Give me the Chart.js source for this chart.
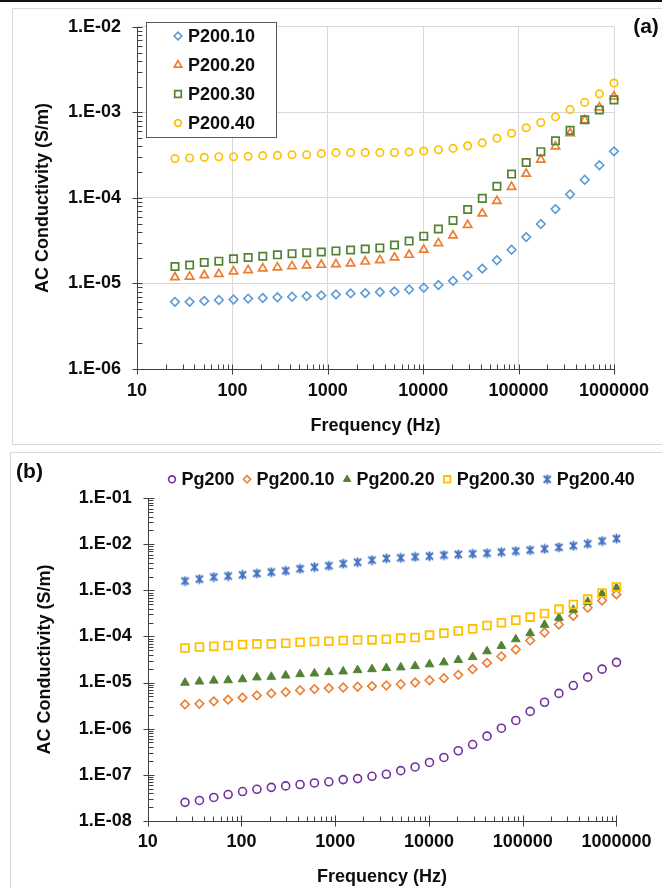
<!DOCTYPE html>
<html>
<head>
<meta charset="utf-8">
<script src="https://cdn.jsdelivr.net/npm/chart.js@4/dist/chart.umd.min.js"></script>
<style>
  html, body { margin: 0; padding: 0; background: #fff; }
  body { width: 662px; height: 888px; position: relative; overflow: hidden; }
  #topRule { position: absolute; left: 0; top: 0; width: 662px; height: 2px; background: #111; }
  .frame { position: absolute; border: 1px solid #d9d9d9; box-sizing: border-box; }
  #frameA { left: 12px; top: 8px; width: 700px; height: 437px; }
  #frameB { left: 10px; top: 452px; width: 700px; height: 500px; }
  canvas { position: absolute; left: 0; }
  #chartA { top: 0; }
  #chartB { top: 448px; }
</style>
</head>
<body>
<div id="topRule"></div>
<div class="frame" id="frameA"></div>
<div class="frame" id="frameB"></div>
<canvas id="chartA" width="662" height="448"></canvas>
<canvas id="chartB" width="662" height="440"></canvas>
<script>
// Measurement frequencies (Hz), shared by both panels
const frequencies = [25, 35.6, 50.7, 72.1, 102.7, 146.2, 208.2, 296.4, 421.9, 600.5, 855.1,
  1217, 1733, 2467, 3512, 5000, 7118, 10134, 14427, 20540, 29240, 41628, 59263, 84370,
  120112, 171000, 243430, 346560, 493390, 702400, 1000000];

// Panel (a): AC conductivity, S/m
const p200_10 = [6.1e-6, 6.1e-6, 6.25e-6, 6.4e-6, 6.5e-6, 6.65e-6, 6.75e-6, 6.9e-6, 7.0e-6, 7.1e-6, 7.25e-6,
  7.45e-6, 7.65e-6, 7.72e-6, 7.93e-6, 8.07e-6, 8.5e-6, 8.9e-6, 9.6e-6, 1.07e-5, 1.235e-5,
  1.49e-5, 1.87e-5, 2.48e-5, 3.48e-5, 4.95e-5, 7.4e-5, 1.1e-4, 1.63e-4, 2.41e-4, 3.5e-4];
const p200_20 = [1.18e-5, 1.2e-5, 1.245e-5, 1.29e-5, 1.38e-5, 1.43e-5, 1.5e-5, 1.54e-5, 1.59e-5, 1.62e-5, 1.65e-5,
  1.68e-5, 1.71e-5, 1.8e-5, 1.87e-5, 2.01e-5, 2.16e-5, 2.48e-5, 2.96e-5, 3.63e-5, 4.82e-5,
  6.57e-5, 9.19e-5, 1.345e-4, 1.915e-4, 2.8e-4, 4.0e-4, 5.69e-4, 8.1e-4, 1.143e-3, 1.53e-3];
const p200_30 = [1.58e-5, 1.64e-5, 1.76e-5, 1.82e-5, 1.94e-5, 2.01e-5, 2.08e-5, 2.16e-5, 2.23e-5, 2.29e-5, 2.33e-5,
  2.4e-5, 2.46e-5, 2.53e-5, 2.6e-5, 2.81e-5, 3.13e-5, 3.57e-5, 4.33e-5, 5.45e-5, 7.31e-5,
  9.87e-5, 1.368e-4, 1.9e-4, 2.59e-4, 3.47e-4, 4.65e-4, 6.16e-4, 8.18e-4, 1.067e-3, 1.4e-3];
const p200_40 = [2.88e-4, 2.93e-4, 2.98e-4, 3.03e-4, 3.03e-4, 3.06e-4, 3.12e-4, 3.14e-4, 3.2e-4, 3.2e-4, 3.29e-4,
  3.38e-4, 3.38e-4, 3.38e-4, 3.38e-4, 3.4e-4, 3.44e-4, 3.53e-4, 3.66e-4, 3.79e-4, 4.06e-4,
  4.4e-4, 4.98e-4, 5.69e-4, 6.61e-4, 7.62e-4, 8.86e-4, 1.076e-3, 1.307e-3, 1.645e-3, 2.2e-3];

// Panel (b): AC conductivity, S/m
const pg200 = [2.5e-8, 2.75e-8, 3.2e-8, 3.7e-8, 4.3e-8, 4.8e-8, 5.3e-8, 5.7e-8, 6.1e-8, 6.6e-8, 7.0e-8,
  7.8e-8, 8.2e-8, 9.2e-8, 1.02e-7, 1.22e-7, 1.47e-7, 1.84e-7, 2.36e-7, 3.3e-7, 4.5e-7,
  6.85e-7, 1.02e-6, 1.5e-6, 2.36e-6, 3.73e-6, 5.8e-6, 8.6e-6, 1.31e-5, 1.95e-5, 2.74e-5];
const pg200_10 = [3.35e-6, 3.45e-6, 3.9e-6, 4.25e-6, 4.7e-6, 5.25e-6, 5.8e-6, 6.2e-6, 6.8e-6, 7.2e-6, 7.55e-6,
  7.8e-6, 8.1e-6, 8.35e-6, 8.6e-6, 9.2e-6, 1.0e-5, 1.12e-5, 1.24e-5, 1.47e-5, 1.95e-5,
  2.67e-5, 3.7e-5, 5.2e-5, 8.2e-5, 1.22e-4, 1.82e-4, 2.8e-4, 4.2e-4, 6.05e-4, 8.2e-4];
const pg200_20 = [9.9e-6, 1.05e-5, 1.1e-5, 1.12e-5, 1.18e-5, 1.29e-5, 1.33e-5, 1.42e-5, 1.52e-5, 1.57e-5, 1.68e-5,
  1.74e-5, 1.86e-5, 1.95e-5, 2.06e-5, 2.13e-5, 2.27e-5, 2.48e-5, 2.74e-5, 3.08e-5, 3.58e-5,
  4.77e-5, 6.23e-5, 8.7e-5, 1.18e-4, 1.79e-4, 2.54e-4, 3.8e-4, 5.66e-4, 8.45e-4, 1.14e-3];
const pg200_30 = [5.6e-5, 5.9e-5, 6.1e-5, 6.35e-5, 6.7e-5, 6.9e-5, 6.9e-5, 7.1e-5, 7.5e-5, 7.8e-5, 7.9e-5,
  8.15e-5, 8.4e-5, 8.45e-5, 8.7e-5, 9.2e-5, 9.5e-5, 1.07e-4, 1.18e-4, 1.32e-4, 1.46e-4,
  1.73e-4, 1.98e-4, 2.26e-4, 2.63e-4, 3.16e-4, 3.92e-4, 4.96e-4, 6.47e-4, 8.74e-4, 1.18e-3];
const pg200_40 = [1.6e-3, 1.76e-3, 1.95e-3, 2.05e-3, 2.18e-3, 2.34e-3, 2.5e-3, 2.67e-3, 2.95e-3, 3.2e-3, 3.43e-3,
  3.8e-3, 4.1e-3, 4.55e-3, 4.95e-3, 5.1e-3, 5.35e-3, 5.55e-3, 5.85e-3, 6.05e-3, 6.25e-3,
  6.45e-3, 6.8e-3, 7.15e-3, 7.5e-3, 8.0e-3, 8.6e-3, 9.3e-3, 1.03e-2, 1.18e-2, 1.33e-2];

// Axis ticks and labels
const xTickValues = [10, 100, 1000, 10000, 100000, 1000000];
const xTickLabels = ['10', '100', '1000', '10000', '100000', '1000000'];
const yTickValuesA = [1e-6, 1e-5, 1e-4, 1e-3, 1e-2];
const yTickLabelsA = ['1.E-06', '1.E-05', '1.E-04', '1.E-03', '1.E-02'];
const yTickValuesB = [1e-8, 1e-7, 1e-6, 1e-5, 1e-4, 1e-3, 1e-2, 1e-1];
const yTickLabelsB = ['1.E-08', '1.E-07', '1.E-06', '1.E-05', '1.E-04', '1.E-03', '1.E-02', '1.E-01'];

const FAMILY = "'Liberation Sans', Arial, Helvetica, sans-serif";
const INK = '#0d0d0d';
const AXIS = '#404040';

// Six-armed star marker (X with a vertical bar)
function starMarker(color) {
  const s = 11;
  const c = document.createElement('canvas');
  c.width = s; c.height = s;
  const g = c.getContext('2d');
  g.strokeStyle = color; g.lineWidth = 2;
  const m = s / 2;
  g.beginPath();
  g.moveTo(m - 3.6, m - 3.4); g.lineTo(m + 3.6, m + 3.4);
  g.moveTo(m + 3.6, m - 3.4); g.lineTo(m - 3.6, m + 3.4);
  g.moveTo(m, m - 4.8); g.lineTo(m, m + 4.8);
  g.stroke();
  return c;
}

function series(label, values, style, radius, color, fill, width, idx, count) {
  return {
    label,
    data: frequencies.map((f, j) => ({ x: f, y: values[j] })),
    pointStyle: style,
    pointRadius: radius,
    pointHoverRadius: radius,
    pointBorderColor: color,
    pointBackgroundColor: fill,
    pointBorderWidth: width,
    showLine: false,
    clip: false,
    order: count - idx
  };
}

// Log-axis tick marks: major ticks cross the axis, minor ticks sit inside
function logMarks(min, max) {
  const out = [];
  const e0 = Math.round(Math.log10(min)), e1 = Math.round(Math.log10(max));
  for (let e = e0; e <= e1; e++) {
    const d = Math.pow(10, e);
    out.push({ v: d, major: true });
    if (e < e1) for (let k = 2; k <= 9; k++) out.push({ v: k * d, major: false });
  }
  return out;
}

const axisMarks = {
  id: 'axisMarks',
  afterDraw(chart, args, o) {
    const { ctx, chartArea: a, scales } = chart;
    const xs = scales.x, ys = scales.y;
    const xl = Math.round(a.left) + 0.5;
    const yb = Math.round(a.bottom) + 0.5;
    ctx.save();
    ctx.strokeStyle = AXIS;
    ctx.lineWidth = 1;
    ctx.beginPath();
    ctx.moveTo(xl, a.top); ctx.lineTo(xl, yb);
    ctx.moveTo(xl, yb); ctx.lineTo(a.right, yb);
    logMarks(xs.min, xs.max).forEach(t => {
      const px = Math.round(xs.getPixelForValue(t.v)) + 0.5;
      if (t.major) { ctx.moveTo(px, yb - o.majorIn); ctx.lineTo(px, yb + o.majorOut); }
      else { ctx.moveTo(px, yb - o.minorIn); ctx.lineTo(px, yb); }
    });
    logMarks(ys.min, ys.max).forEach(t => {
      const py = Math.round(ys.getPixelForValue(t.v)) + 0.5;
      if (t.major) { ctx.moveTo(xl - o.majorOut, py); ctx.lineTo(xl + o.majorIn, py); }
      else { ctx.moveTo(xl, py); ctx.lineTo(xl + o.minorIn, py); }
    });
    ctx.stroke();
    ctx.restore();
  }
};

function drawMarker(ctx, ds, x, y, scale) {
  ctx.save();
  ctx.strokeStyle = ds.pointBorderColor;
  ctx.fillStyle = ds.pointBackgroundColor;
  ctx.lineWidth = ds.pointBorderWidth;
  Chart.helpers.drawPoint(ctx, {
    pointStyle: ds.pointStyle,
    radius: ds.pointRadius * scale,
    rotation: 0,
    borderWidth: ds.pointBorderWidth
  }, x, y);
  ctx.restore();
}

const seriesKey = {
  id: 'seriesKey',
  afterDraw(chart, args, o) {
    const ctx = chart.ctx;
    ctx.save();
    if (o.box) {
      ctx.fillStyle = '#fff';
      ctx.fillRect(o.box.x, o.box.y, o.box.w, o.box.h);
      ctx.strokeStyle = o.box.color;
      ctx.lineWidth = 1;
      ctx.strokeRect(o.box.x + 0.5, o.box.y + 0.5, o.box.w, o.box.h);
    }
    ctx.font = 'bold 18px ' + FAMILY;
    ctx.textBaseline = 'middle';
    ctx.textAlign = 'left';
    let x = o.x, y = o.y;
    chart.data.datasets.forEach(ds => {
      drawMarker(ctx, ds, x, y, o.markerScale);
      ctx.fillStyle = INK;
      ctx.fillText(ds.label, x + o.textGap, y + 1);
      if (o.row) x += o.textGap + ctx.measureText(ds.label).width + o.itemGap;
      else y += o.step;
    });
    ctx.restore();
  }
};

const panelTag = {
  id: 'panelTag',
  afterDraw(chart, args, o) {
    const ctx = chart.ctx;
    ctx.save();
    ctx.font = 'bold 21px ' + FAMILY;
    ctx.fillStyle = INK;
    ctx.textAlign = 'center';
    ctx.textBaseline = 'middle';
    ctx.fillText(o.text, o.x, o.y);
    ctx.restore();
  }
};

function logAxis(values, labels, opts) {
  return {
    type: 'logarithmic',
    min: values[0],
    max: values[values.length - 1],
    afterBuildTicks: s => { s.ticks = values.map(v => ({ value: v })); },
    afterFit: opts.fit,
    border: { display: false },
    grid: opts.grid,
    ticks: {
      callback: (v, i) => labels[i],
      autoSkip: false,
      maxRotation: 0,
      minRotation: 0,
      padding: opts.pad,
      color: INK,
      font: { family: FAMILY, size: 18, weight: 'bold' }
    },
    title: {
      display: true,
      text: opts.title,
      color: INK,
      font: { family: FAMILY, size: 18, weight: 'bold' },
      padding: opts.titlePad
    }
  };
}

const baseOptions = {
  responsive: false,
  animation: false,
  devicePixelRatio: 1,
  events: []
};

// Panel (a)
const dsA = [
  ['P200.10', p200_10, 'rectRot', 4.3, '#5B9BD5', 'rgba(0,0,0,0)', 1.6],
  ['P200.20', p200_20, 'triangle', 4.8, '#ED7D31', 'rgba(0,0,0,0)', 1.7],
  ['P200.30', p200_30, 'rect', 5.2, '#548235', 'rgba(0,0,0,0)', 1.7],
  ['P200.40', p200_40, 'circle', 3.7, '#FFC000', 'rgba(0,0,0,0)', 1.7]
].map((d, i, arr) => series(d[0], d[1], d[2], d[3], d[4], d[5], d[6], i, arr.length));

new Chart(document.getElementById('chartA'), {
  type: 'scatter',
  data: { datasets: dsA },
  options: Object.assign({}, baseOptions, {
    layout: { padding: { left: 0, right: 48, top: 22, bottom: 0 } },
    plugins: {
      legend: { display: false },
      tooltip: { enabled: false },
      axisMarks: { majorIn: 5, majorOut: 5, minorIn: 5 },
      seriesKey: {
        box: { x: 146, y: 22, w: 130, h: 115, color: '#595959' },
        x: 178, y: 36, step: 29, textGap: 10, markerScale: 0.9, row: false
      },
      panelTag: { text: '(a)', x: 646, y: 27 }
    },
    scales: {
      x: logAxis(xTickValues, xTickLabels, {
        fit: s => { s.height = 79; },
        grid: { color: '#d9d9d9', lineWidth: 1, drawTicks: false },
        pad: 11,
        title: 'Frequency (Hz)',
        titlePad: { top: 0, bottom: 11.5 }
      }),
      y: logAxis(yTickValuesA, yTickLabelsA, {
        fit: s => { s.width = 137; },
        grid: { color: '#d9d9d9', lineWidth: 1, drawTicks: false },
        pad: 16,
        title: 'AC Conductivity (S/m)',
        titlePad: { top: 32.2, bottom: 0 }
      })
    }
  }),
  plugins: [axisMarks, seriesKey, panelTag]
});

// Panel (b)
const dsB = [
  ['Pg200', pg200, 'circle', 4.0, '#7030A0', 'rgba(0,0,0,0)', 1.6],
  ['Pg200.10', pg200_10, 'rectRot', 4.3, '#ED7D31', 'rgba(0,0,0,0)', 1.6],
  ['Pg200.20', pg200_20, 'triangle', 5.0, '#548235', '#548235', 1],
  ['Pg200.30', pg200_30, 'rect', 5.5, '#FFC000', 'rgba(0,0,0,0)', 1.8],
  ['Pg200.40', pg200_40, starMarker('#4472C4'), 5, '#4472C4', '#4472C4', 1]
].map((d, i, arr) => series(d[0], d[1], d[2], d[3], d[4], d[5], d[6], i, arr.length));

new Chart(document.getElementById('chartB'), {
  type: 'scatter',
  data: { datasets: dsB },
  options: Object.assign({}, baseOptions, {
    layout: { padding: { left: 0, right: 38, top: 50.3, bottom: 0 } },
    plugins: {
      legend: { display: false },
      tooltip: { enabled: false },
      axisMarks: { majorIn: 6, majorOut: 5, minorIn: 5 },
      seriesKey: { x: 172, y: 31.3, textGap: 9.5, itemGap: 12.5, markerScale: 0.85, row: true },
      panelTag: { text: '(b)', x: 29.5, y: 24.5 }
    },
    scales: {
      x: logAxis(xTickValues, xTickLabels, {
        fit: s => { s.height = 67.3; },
        grid: { display: false, drawTicks: false },
        pad: 10.5,
        title: 'Frequency (Hz)',
        titlePad: { top: 0, bottom: 0.5 }
      }),
      y: logAxis(yTickValuesB, yTickLabelsB, {
        fit: s => { s.width = 147.7; },
        grid: { display: false, drawTicks: false },
        pad: 16,
        title: 'AC Conductivity (S/m)',
        titlePad: { top: 34.2, bottom: 0 }
      })
    }
  }),
  plugins: [axisMarks, seriesKey, panelTag]
});
</script>
</body>
</html>
